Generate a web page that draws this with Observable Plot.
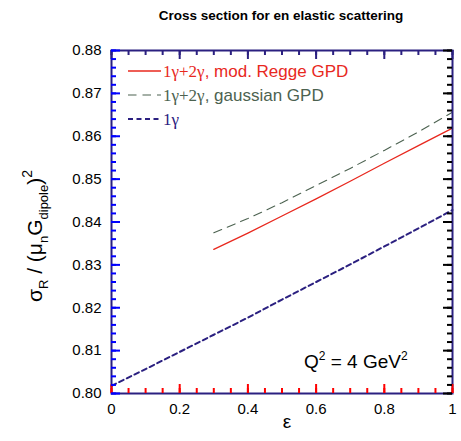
<!DOCTYPE html>
<html>
<head>
<meta charset="utf-8">
<script src="https://cdn.jsdelivr.net/npm/d3@7"></script>
<script src="https://cdn.jsdelivr.net/npm/@observablehq/plot@0.6"></script>
<style>
  html, body { margin: 0; padding: 0; background: #fff; }
</style>
</head>
<body>
<div id="chart"></div>
<script>
// ---- data ----
const epsGPD = [0.3, 0.4, 0.5, 0.6, 0.7, 0.8, 0.9, 1.0];
const reggeValues = [0.8336, 0.8374, 0.8414, 0.8454, 0.8495, 0.8537, 0.8578, 0.8619];
const gaussValues = [0.8375, 0.8408, 0.8445, 0.8485, 0.8525, 0.8567, 0.8610, 0.8656];
const eps1g = [0, 0.1, 0.2, 0.3, 0.4, 0.5, 0.6, 0.7, 0.8, 0.9, 1.0];
const oneGammaValues = [0.8018, 0.8057, 0.8097, 0.8137, 0.8177, 0.8219, 0.8260, 0.8301, 0.8343, 0.8385, 0.8428];

const xDomain = [0, 1];
const yDomain = [0.80, 0.88];
const xMajor = [0, 0.2, 0.4, 0.6, 0.8, 1];
const xTickLabels = ["0", "0.2", "0.4", "0.6", "0.8", "1"];
const xMinor = d3.range(0, 21).map(i => i / 20);
const yMajor = [0.80, 0.81, 0.82, 0.83, 0.84, 0.85, 0.86, 0.87, 0.88];
const yTickLabels = ["0.80", "0.81", "0.82", "0.83", "0.84", "0.85", "0.86", "0.87", "0.88"];
const yMinor = d3.range(0, 41).map(i => 0.80 + i * 0.002);

const seriesNames = ["regge", "gauss", "one"];
const legendSerif = ["1γ+2γ", "1γ+2γ", "1γ"];
const legendSans = [", mod. Regge GPD", ", gaussian GPD", ""];
const titleText = "Cross section for en elastic scattering";

const frameColor = "#2b2080";
const red = "#e8281e";
const gray = "#4c6250";

const rows = [];
epsGPD.forEach((e, i) => rows.push({series: "regge", eps: e, v: reggeValues[i]}));
epsGPD.forEach((e, i) => rows.push({series: "gauss", eps: e, v: gaussValues[i]}));
eps1g.forEach((e, i) => rows.push({series: "one", eps: e, v: oneGammaValues[i]}));

const fmtX = d => xTickLabels[xMajor.findIndex(v => Math.abs(v - d) < 1e-9)] ?? "";
const fmtY = d => yTickLabels[yMajor.findIndex(v => Math.abs(v - d) < 1e-9)] ?? "";

const chart = Plot.plot({
  width: 461,
  height: 441,
  marginLeft: 111,
  marginRight: 9,
  marginTop: 50,
  marginBottom: 48,
  style: {fontFamily: "'Liberation Sans', Arial, sans-serif", fontSize: "15px"},
  x: {domain: xDomain, label: null},
  y: {domain: yDomain, label: null},
  marks: [
    Plot.axisX({anchor: "bottom", ticks: xMajor, tickSize: 0, tickPadding: 10, tickFormat: fmtX, label: null, fontSize: 15, fill: "#000"}),
    Plot.axisY({anchor: "left", ticks: yMajor, tickSize: 0, tickPadding: 10, tickFormat: fmtY, label: null, fontSize: 15, fill: "#000"}),
    Plot.line(rows.filter(d => d.series === "one"), {x: "eps", y: "v", stroke: frameColor, strokeWidth: 2, strokeDasharray: "5,3.5"}),
    Plot.line(rows.filter(d => d.series === "gauss"), {x: "eps", y: "v", stroke: gray, strokeWidth: 1.1, strokeDasharray: "8.5,6"}),
    Plot.line(rows.filter(d => d.series === "regge"), {x: "eps", y: "v", stroke: red, strokeWidth: 1.3}),
    Plot.frame({stroke: frameColor, strokeWidth: 2}),
    // diagnostic colours: bottom red, top hex navy, left "blue", right black
    Plot.ruleX(xMinor, {x: d => d, y1: yDomain[0], y2: yDomain[0], insetBottom: 5, stroke: "red", strokeWidth: 2}),
    Plot.ruleX(xMajor, {x: d => d, y1: yDomain[0], y2: yDomain[0], insetBottom: 9, stroke: "red", strokeWidth: 2}),
    Plot.ruleX(xMinor, {x: d => d, y1: yDomain[1], y2: yDomain[1], insetBottom: -5, stroke: frameColor, strokeWidth: 2}),
    Plot.ruleX(xMajor, {x: d => d, y1: yDomain[1], y2: yDomain[1], insetBottom: -9, stroke: frameColor, strokeWidth: 2}),
    Plot.ruleY(yMinor, {y: d => d, x1: xDomain[0], x2: xDomain[0], insetRight: -5, stroke: "blue", strokeWidth: 2}),
    Plot.ruleY(yMajor, {y: d => d, x1: xDomain[0], x2: xDomain[0], insetRight: -9, stroke: "blue", strokeWidth: 2}),
    Plot.ruleY(yMinor, {y: d => d, x1: xDomain[1], x2: xDomain[1], insetRight: 5, stroke: "black", strokeWidth: 2}),
    Plot.ruleY(yMajor, {y: d => d, x1: xDomain[1], x2: xDomain[1], insetRight: 9, stroke: "black", strokeWidth: 2})
  ]
});

document.getElementById("chart").appendChild(chart);

const svg = d3.select(chart);
const sans = "'Liberation Sans', Arial, sans-serif";
const serif = "'Liberation Serif', 'Times New Roman', serif";

svg.append("text")
  .attr("x", 281).attr("y", 20)
  .attr("text-anchor", "middle")
  .style("font-family", sans).style("font-size", "13.5px").style("font-weight", "bold")
  .attr("fill", "#000")
  .text(titleText);

svg.append("text")
  .attr("x", 287).attr("y", 428)
  .attr("text-anchor", "middle")
  .style("font-family", sans).style("font-size", "19px")
  .attr("fill", "#000")
  .text("ε");

const yl = svg.append("text")
  .attr("transform", "translate(42,236) rotate(-90)")
  .attr("text-anchor", "middle")
  .style("font-family", sans).style("font-size", "21px")
  .attr("fill", "#000");
yl.append("tspan").text("σ");
yl.append("tspan").attr("dy", 6).style("font-size", "13px").text("R");
yl.append("tspan").attr("dy", -6).text(" / (μ");
yl.append("tspan").attr("dy", 6).style("font-size", "13px").text("n");
yl.append("tspan").attr("dy", -6).text("G");
yl.append("tspan").attr("dy", 6).style("font-size", "13px").text("dipole");
yl.append("tspan").attr("dy", -6).text(")");
yl.append("tspan").attr("dy", -10).style("font-size", "14px").text("2");

const q = svg.append("text")
  .attr("x", 304).attr("y", 368)
  .attr("text-anchor", "start")
  .style("font-family", sans).style("font-size", "19px")
  .attr("fill", "#000");
q.append("tspan").text("Q");
q.append("tspan").attr("dy", -8).style("font-size", "12px").text("2");
q.append("tspan").attr("dy", 8).text(" = 4 GeV");
q.append("tspan").attr("dy", -8).style("font-size", "12px").text("2");

const legendColors = [red, gray, frameColor];
const legendDash = [null, "8.5,6", "5,3.5"];
const legendWidth = [1.3, 1.1, 2];
seriesNames.forEach((s, i) => {
  const cy = 71 + i * 24;
  svg.append("line")
    .attr("x1", 128).attr("x2", 161).attr("y1", cy).attr("y2", cy)
    .attr("stroke", legendColors[i]).attr("stroke-width", legendWidth[i])
    .attr("stroke-dasharray", legendDash[i]);
  const t = svg.append("text")
    .attr("x", 163).attr("y", cy + 6)
    .attr("text-anchor", "start")
    .style("font-size", "17px")
    .attr("fill", legendColors[i]);
  t.append("tspan").style("font-family", serif).text(legendSerif[i]);
  t.append("tspan").style("font-family", sans).text(legendSans[i]);
});
</script>
</body>
</html>
